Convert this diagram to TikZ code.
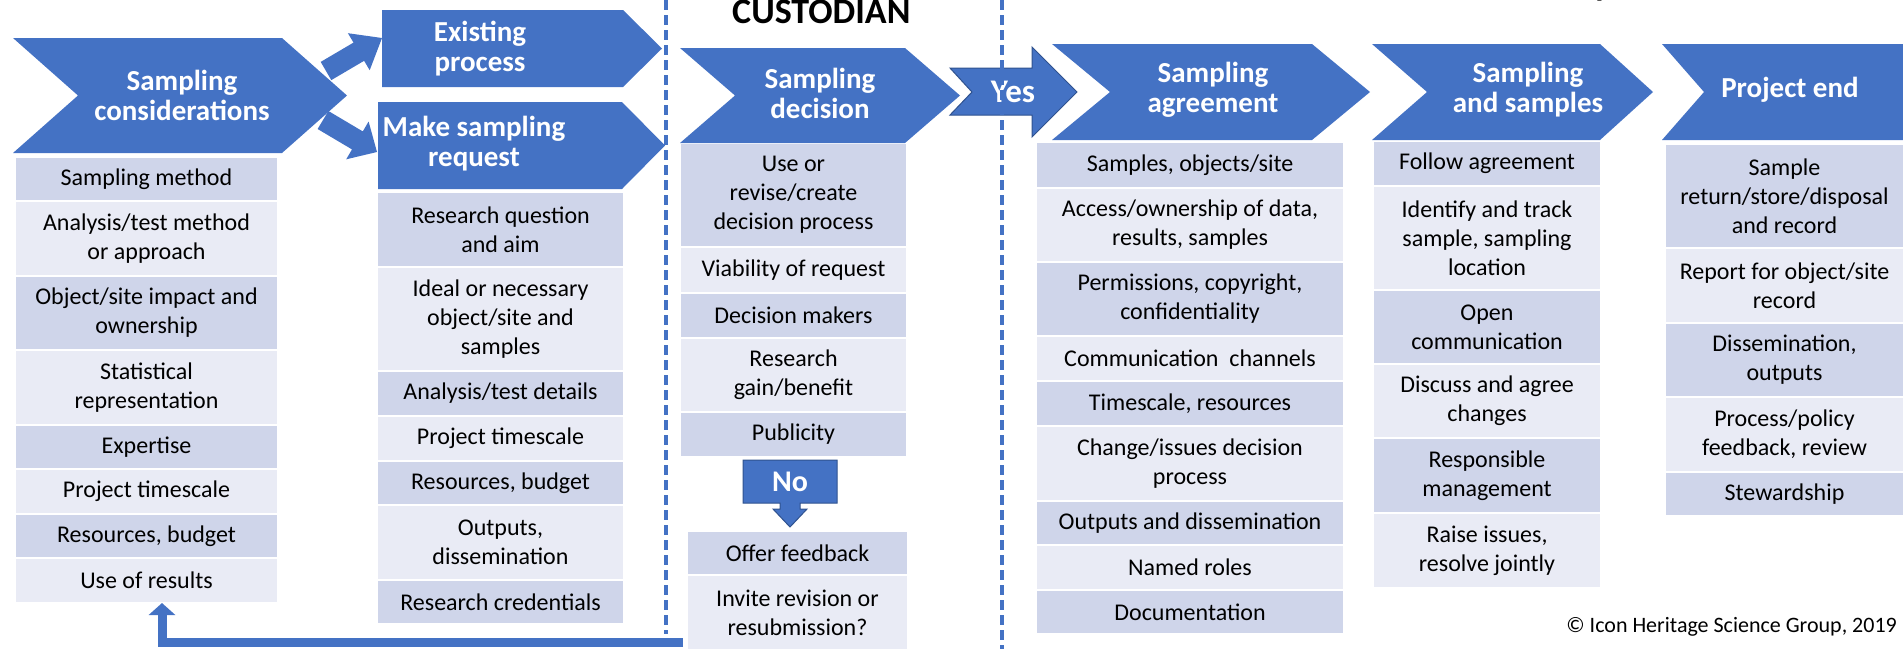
\documentclass[tikz,border=0pt]{standalone}
\usepackage{fontspec}
\setmainfont{Carlito}
\usetikzlibrary{arrows.meta}
\definecolor{cblue}{HTML}{4472C4}
\definecolor{cdark}{HTML}{CFD5EA}
\definecolor{clight}{HTML}{E9EBF5}
\definecolor{cline}{HTML}{2F528F}
\newcommand\rowbox[7]{\node[rowsty, fill=#6, minimum width={(#4-#2)*1pt}, minimum height={(#5-#3)*1pt}] (#1) at ({(#2+#4)/2},{(#3+#5)/2}) {#7};}
\newcommand\chevshape[6]{\fill[cblue] (#1,#2) -- ({#3-#6},#2) -- (#3,{(#2+#4)/2}) -- ({#3-#6},#4) -- (#1,#4) -- ({#1+#5},{(#2+#4)/2}) -- cycle;}
\begin{document}
\begin{tikzpicture}[x=1pt,y=-1pt,
  rowsty/.style={inner sep=0pt, outer sep=0pt, align=center, text=black, font=\fontsize{24}{29}\selectfont},
  hdr/.style={text=white, font=\bfseries\fontsize{29}{30}\selectfont, align=center, inner sep=0pt},
  dashsep/.style={cblue, line width=3.6pt, dash pattern=on 10pt off 5pt},
  callout/.style={fill=cblue, draw=cline, line width=1pt},
  fbarrow/.style={cblue, line width=9pt, -{Triangle[width=26pt,length=12pt]}}]
\useasboundingbox (0,0) rectangle (1903,649);
\clip (0,0) rectangle (1903,649);

% header chevrons
\chevshape{13}{38}{347}{153}{65}{65}
\node[hdr] (hSC) at (182,95) {Sampling\\considerations};
\chevshape{382}{10}{662}{87}{0}{39}
\node[hdr] (hEP) at (480,49) {Existing\\process};
\chevshape{378}{102}{665}{189}{0}{43}
\node[hdr] (hMR) at (474,144) {Make sampling\\request};
\chevshape{680}{48}{960}{143}{55}{55}
\node[hdr] (hSD) at (820,93) {Sampling\\decision};
\chevshape{1052}{44}{1370}{140}{58}{58}
\node[hdr] (hSA) at (1213,90) {Sampling\\agreement};
\chevshape{1372}{44}{1653}{140}{55}{53}
\node[hdr] (hSS) at (1528,90) {Sampling\\and samples};
\chevshape{1662}{44}{1960}{140}{42}{55}
\node[hdr] (hPE) at (1790,90) {Project end};

% block arrows from Sampling considerations
\fill[cblue] (320.7,61.9) -- (353.5,42.6) -- (347.9,33.2) -- (382,38) -- (369.7,70.2) -- (364.1,60.8) -- (331.3,80.1) -- cycle;
\fill[cblue] (328.4,111) -- (362.8,131.4) -- (368.6,121.5) -- (377,152) -- (346.2,159.3) -- (352,149.4) -- (317.6,129) -- cycle;

% Yes arrow
\draw[callout] (950,68) -- (1032,68) -- (1032,47) -- (1077,92) -- (1032,137) -- (1032,115) -- (950,115) -- (972,92) -- cycle;
\node[hdr, font=\bfseries\fontsize{33}{33}\selectfont] (yes) at (1013,92) {Yes};

% No callout
\draw[callout] (743,460) -- (837,460) -- (837,503) -- (800,503) -- (800,509) -- (807,509) -- (790,527) -- (773,509) -- (780,509) -- (780,503) -- (743,503) -- cycle;
\node[hdr, font=\bfseries\fontsize{30}{30}\selectfont] (no) at (790,482) {No};

% list 1
\rowbox{a1}{16}{158}{277}{200}{cdark}{Sampling method}
\rowbox{a2}{16}{202}{277}{275}{clight}{Analysis/test method\\or approach}
\rowbox{a3}{16}{277}{277}{349}{cdark}{Object/site impact and\\ownership}
\rowbox{a4}{16}{351}{277}{424}{clight}{Statistical\\representation}
\rowbox{a5}{16}{426}{277}{468}{cdark}{Expertise}
\rowbox{a6}{16}{470}{277}{513}{clight}{Project timescale}
\rowbox{a7}{16}{515}{277}{557}{cdark}{Resources, budget}
\rowbox{a8}{16}{559}{277}{602}{clight}{Use of results}

% list 2
\rowbox{b1}{378}{193}{623}{266}{cdark}{Research question\\and aim}
\rowbox{b2}{378}{268}{623}{370}{clight}{Ideal or necessary\\object/site and\\samples}
\rowbox{b3}{378}{372}{623}{415}{cdark}{Analysis/test details}
\rowbox{b4}{378}{417}{623}{460}{clight}{Project timescale}
\rowbox{b5}{378}{462}{623}{504}{cdark}{Resources, budget}
\rowbox{b6}{378}{506}{623}{579}{clight}{Outputs,\\dissemination}
\rowbox{b7}{378}{581}{623}{623}{cdark}{Research credentials}

% list 3
\rowbox{c1}{681}{144}{906}{246}{cdark}{Use or\\revise/create\\decision process}
\rowbox{c2}{681}{248}{906}{292}{clight}{Viability of request}
\rowbox{c3}{681}{294}{906}{337}{cdark}{Decision makers}
\rowbox{c4}{681}{339}{906}{411}{clight}{Research\\gain/benefit}
\rowbox{c5}{681}{413}{906}{456}{cdark}{Publicity}
\rowbox{c6}{688}{532}{907}{574}{cdark}{Offer feedback}
\rowbox{c7}{688}{576}{907}{649}{clight}{Invite revision or\\resubmission?}

% list 4
\rowbox{d1}{1037}{143}{1343}{187}{cdark}{Samples, objects/site}
\rowbox{d2}{1037}{189}{1343}{261}{clight}{Access/ownership of data,\\results, samples}
\rowbox{d3}{1037}{263}{1343}{335}{cdark}{Permissions, copyright,\\confidentiality}
\rowbox{d4}{1037}{337}{1343}{380}{clight}{Communication\ \ channels}
\rowbox{d5}{1037}{382}{1343}{425}{cdark}{Timescale, resources}
\rowbox{d6}{1037}{427}{1343}{500}{clight}{Change/issues decision\\process}
\rowbox{d7}{1037}{502}{1343}{544}{cdark}{Outputs and dissemination}
\rowbox{d8}{1037}{546}{1343}{589}{clight}{Named roles}
\rowbox{d9}{1037}{591}{1343}{633}{cdark}{Documentation}

% list 5
\rowbox{e1}{1374}{142}{1600}{185}{cdark}{Follow agreement}
\rowbox{e2}{1374}{187}{1600}{289}{clight}{Identify and track\\sample, sampling\\location}
\rowbox{e3}{1374}{291}{1600}{363}{cdark}{Open\\communication}
\rowbox{e4}{1374}{365}{1600}{437}{clight}{Discuss and agree\\changes}
\rowbox{e5}{1374}{439}{1600}{512}{cdark}{Responsible\\management}
\rowbox{e6}{1374}{514}{1600}{587}{clight}{Raise issues,\\resolve jointly}

% list 6
\rowbox{f1}{1666}{145}{1903}{247}{cdark}{Sample\\return/store/disposal\\and record}
\rowbox{f2}{1666}{249}{1903}{322}{clight}{Report for object/site\\record}
\rowbox{f3}{1666}{324}{1903}{396}{cdark}{Dissemination,\\outputs}
\rowbox{f4}{1666}{398}{1903}{471}{clight}{Process/policy\\feedback, review}
\rowbox{f5}{1666}{473}{1903}{515}{cdark}{Stewardship}

% dashed separators
\coordinate (d1t) at (666,0);
\coordinate (d1b) at (666,634);
\coordinate (d2t) at (1002,0);
\coordinate (d2b) at (1002,649);
\draw[dashsep] (d1t) -- (d1b);
\draw[dashsep] (d2t) -- (d2b);

% feedback arrow back to list 1
\coordinate (fbstart) at (683,642);
\coordinate (fbend) at (162,603);
\draw[fbarrow] (fbstart) -| (fbend);

% titles and credit
\node[anchor=base west, inner sep=0pt, font=\bfseries\fontsize{36}{36}\selectfont] (cust) at (732,23) {CUSTODIAN};
\node[anchor=base east, inner sep=0pt, font=\bfseries\fontsize{36}{36}\selectfont] (yfrag) at (1611,-5) {y};
\node[anchor=east, inner sep=0pt, font=\fontsize{22}{22}\selectfont] (copy) at (1897,627) {© Icon Heritage Science Group, 2019};
\end{tikzpicture}
\end{document}
